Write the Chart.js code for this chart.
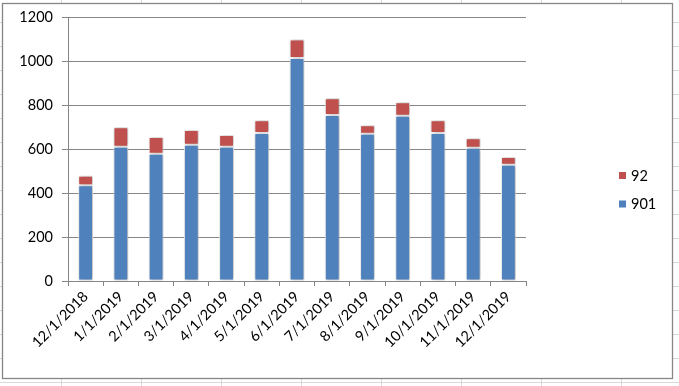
<!DOCTYPE html>
<html>
<head>
<meta charset="utf-8">
<script src="https://cdn.jsdelivr.net/npm/chart.js@4/dist/chart.umd.min.js"></script>
<style>
  html, body {
    margin: 0;
    padding: 0;
    background-color: #fff;
    background-image:
      linear-gradient(to right, #d9d9d9 1px, transparent 1px),
      linear-gradient(to bottom, #d9d9d9 1px, transparent 1px);
    background-size: 80px 24px;
    background-position: 61px 22px;
  }
  #wrap { position: relative; width: 679px; height: 386px; }
</style>
</head>
<body>
<div id="wrap"><canvas id="chart"></canvas></div>
<script>
const labels = ['12/1/2018', '1/1/2019', '2/1/2019', '3/1/2019', '4/1/2019', '5/1/2019', '6/1/2019',
  '7/1/2019', '8/1/2019', '9/1/2019', '10/1/2019', '11/1/2019', '12/1/2019'];
const series901 = [436, 612, 580, 621, 612, 675, 1016, 757, 671, 753, 675, 607, 530];
const series92 = [44, 89, 76, 67, 53, 58, 85, 76, 39, 62, 58, 44, 35];

const FONT = 'Lato, "Open Sans", sans-serif';

// white chart box with gray frame, drawn over the sheet grid
const frame = {
  id: 'frame',
  beforeDraw(chart) {
    const ctx = chart.ctx;
    ctx.save();
    ctx.fillStyle = '#fff';
    ctx.fillRect(2, 3, 671, 376);
    ctx.strokeStyle = '#868686';
    ctx.lineWidth = 1.3;
    ctx.strokeRect(2.5, 3.5, 670, 375);
    ctx.restore();
  }
};

// soft shadow round the bars
const barShadow = {
  id: 'barShadow',
  beforeDatasetsDraw(chart) {
    const ctx = chart.ctx;
    ctx.save();
    ctx.shadowColor = 'rgba(0,0,0,0.35)';
    ctx.shadowBlur = 4;
    ctx.shadowOffsetX = 1;
    ctx.shadowOffsetY = 0;
  },
  afterDatasetsDraw(chart) {
    chart.ctx.restore();
  }
};

// legend on the right, last series on top
const sideLegend = {
  id: 'sideLegend',
  afterDraw(chart) {
    const ctx = chart.ctx;
    const sets = chart.data.datasets.slice().reverse();
    ctx.save();
    ctx.font = '14.5px ' + FONT;
    ctx.textBaseline = 'middle';
    sets.forEach((ds, i) => {
      const y = 176 + i * 28.5;
      ctx.fillStyle = ds.backgroundColor;
      ctx.fillRect(619, y - 4, 7, 7);
      ctx.fillStyle = '#000';
      ctx.fillText(ds.label, 631, y);
    });
    ctx.restore();
  }
};

new Chart(document.getElementById('chart'), {
  type: 'bar',
  data: {
    labels: labels,
    datasets: [
      {
        label: '901',
        data: series901,
        backgroundColor: '#4F81BD',
        borderColor: '#fff',
        borderWidth: 1,
        borderSkipped: false
      },
      {
        label: '92',
        data: series92,
        backgroundColor: '#C0504D',
        borderColor: '#fff',
        borderWidth: 1,
        borderSkipped: false
      }
    ]
  },
  options: {
    responsive: true,
    maintainAspectRatio: false,
    animation: false,
    datasets: { bar: { categoryPercentage: 1, barPercentage: 0.42 } },
    layout: { padding: { top: 17, right: 153, left: 0, bottom: 0 } },
    plugins: {
      legend: { display: false },
      tooltip: { enabled: false }
    },
    scales: {
      x: {
        stacked: true,
        afterFit: (s) => { s.height = 105; },
        grid: { drawOnChartArea: false, drawTicks: true, tickLength: 5, color: '#868686' },
        border: { color: '#868686', width: 1 },
        ticks: {
          color: '#000',
          font: { family: FONT, size: 14.5 },
          minRotation: 45,
          maxRotation: 45,
          autoSkip: false,
          padding: 2
        }
      },
      y: {
        stacked: true,
        min: 0,
        max: 1200,
        afterFit: (s) => { s.width = 68; },
        grid: { color: '#868686', tickLength: 6 },
        border: { color: '#868686', width: 1 },
        ticks: {
          stepSize: 200,
          color: '#000',
          font: { family: FONT, size: 14.5 },
          padding: 9,
          callback: (v) => String(v)
        }
      }
    }
  },
  plugins: [frame, barShadow, sideLegend]
});
</script>
</body>
</html>
